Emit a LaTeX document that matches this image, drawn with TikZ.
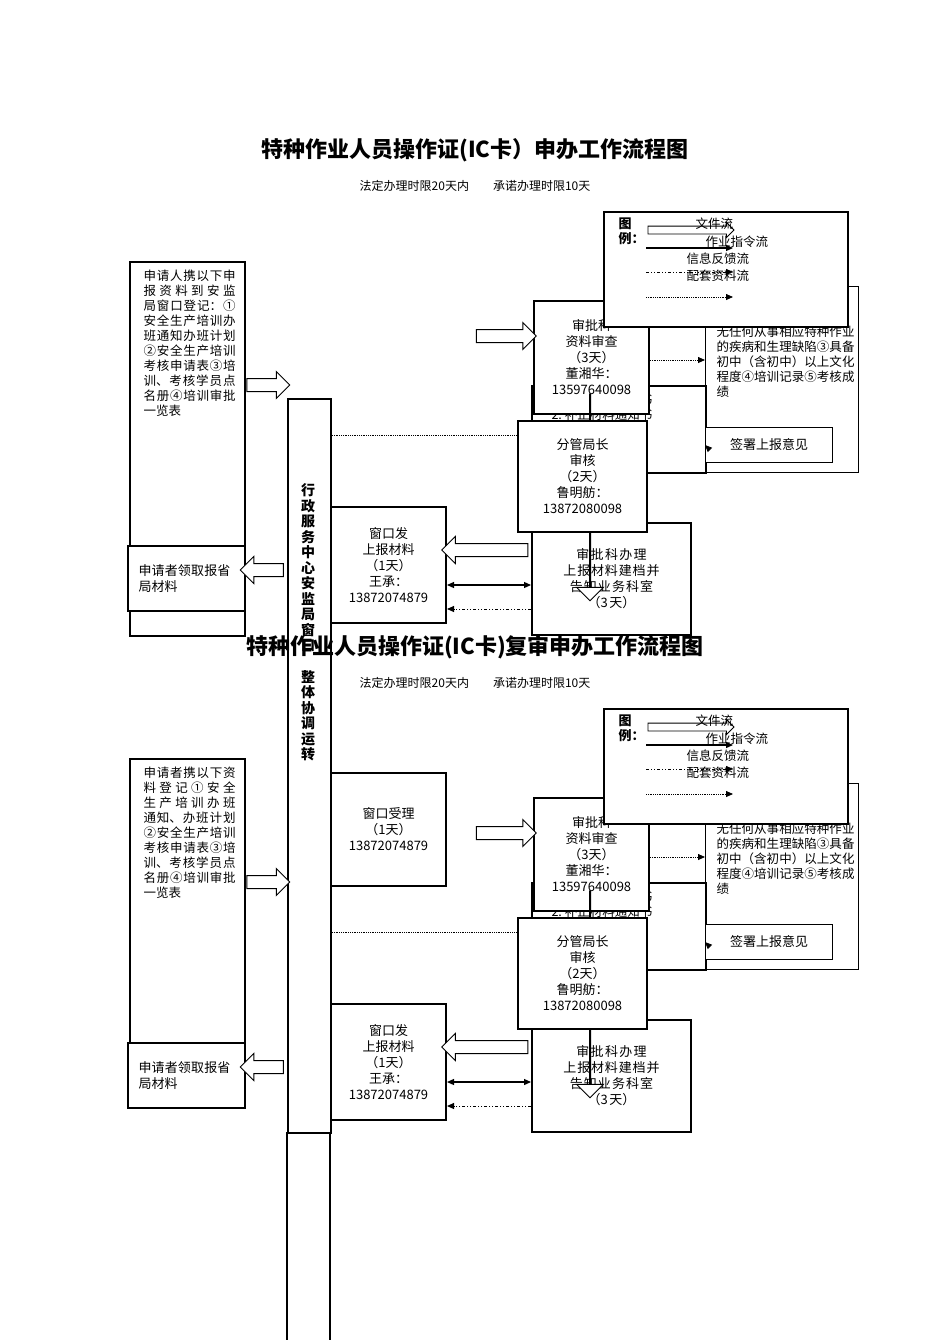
\documentclass[tikz,border=0pt]{standalone}
\usepackage{fontspec}
\setmainfont{Noto Sans CJK SC}
\XeTeXlinebreaklocale "zh"
\XeTeXlinebreakskip=0pt plus 1pt
\usetikzlibrary{shapes.arrows,arrows.meta}
\begin{document}
\begin{tikzpicture}[x=1pt,y=-1pt,
 bx/.style={draw,fill=white,line width=2pt,inner sep=2pt,align=center,font=\fontsize{13}{16}\selectfont},
 thin/.style={draw,fill=white,line width=1pt},
 harrow/.style={single arrow,draw,fill=white,line width=1pt,single arrow head extend=7pt,inner xsep=0pt,inner ysep=6pt},
 dotl/.style={densely dotted,line width=0.8pt},
 tip/.style={-{Triangle[length=7pt,width=6pt]}},
 txt/.style={font=\fontsize{12.5}{15}\selectfont}]
\useasboundingbox (0,0) rectangle (950,1344);
% central bar
\node[draw,line width=2pt,minimum width=43pt,minimum height=734pt,anchor=north west,inner sep=0pt] (bar) at (287,398) {};
\draw[line width=1.8pt] (287,1132) -- (287,1340) (330,1132) -- (330,1340);
\node[font=\bfseries\fontsize{14}{15.5}\selectfont,align=center,anchor=north] (bartxt) at (308,480) {行\\政\\服\\务\\中\\心\\安\\监\\局\\窗\\口\\[16pt]整\\体\\协\\调\\运\\转};

\foreach \o/\ttl/\lefttxt/\lh in {
 0/{特种作业人员操作证(IC卡）申办工作流程图}/{申请人携以下申报资料到安监局窗口登记：①安全生产培训办班通知办班计划②安全生产培训考核申请表③培训、考核学员点名册④培训审批一览表}/374,
 497/{特种作业人员操作证(IC卡)复审申办工作流程图}/{申请者携以下资料登记①安全生产培训办班通知、办班计划②安全生产培训考核申请表③培训、考核学员点名册④培训审批一览表}/325}{
\begin{scope}[yshift=-\o]
\node[font=\bfseries\fontsize{22}{24}\selectfont] (title\o) at (475,150) {\ttl};
\node[font=\fontsize{12}{14}\selectfont] (sub\o) at (475,186) {法定办理时限20天内\quad\quad 承诺办理时限10天};
% left box
\node[bx,anchor=north west,minimum width=115pt,minimum height=\lh pt,inner sep=0pt] (lb\o) at (129,261) {};
\node[txt,anchor=north west,text width=92pt,align=justify] (lbt\o) at (140,266) {\lefttxt};
\node[bx,anchor=north west,minimum width=117pt,minimum height=65pt,text width=96pt,align=left] (get\o) at (127,545) {申请者领取报省局材料};
\node[harrow,minimum height=43pt] (a1\o) at (265,385) {};
\node[harrow,minimum height=43pt,shape border rotate=180] (a2\o) at (265,570) {};
% window boxes
\node[bx,anchor=north west,minimum width=115pt,minimum height=116pt] (fa\o) at (330,506) {窗口发\\上报材料\\（1天）\\王承：\\13872074879};
% requirement box
\node[thin,anchor=north west,minimum width=153pt,minimum height=186pt] (req\o) at (705,286) {};
\node[txt,anchor=north west,text width=138pt,align=justify] (reqt\o) at (713,322) {无任何从事相应特种作业的疾病和生理缺陷③具备初中（含初中）以上文化程度④培训记录⑤考核成绩};
% notice box
\node[bx,anchor=north west,minimum width=174pt,minimum height=87pt] (nt\o) at (531,385) {};
\node[txt,anchor=north west,align=left] (ntt\o) at (548,390) {1.\ 不予受理通知书\\2.\ 补正材料通知书\\3.\ 受理通知书};
\node[thin,anchor=north west,minimum width=127pt,minimum height=35pt,font=\fontsize{13}{14}\selectfont] (sign\o) at (705,427) {签署上报意见};
% approval
\node[bx,anchor=north west,minimum width=115pt,minimum height=113pt] (sp\o) at (533,300) {审批科\\资料审查\\（3天）\\董湘华：\\13597640098};
\node[harrow,minimum height=60pt] (a3\o) at (503,336) {};
\draw[dotl,tip] (sp\o.east |- 0,360) -- (req\o.west |- 0,360);
\draw[dotl,tip] (nt\o.east |- 0,447) -- (sign\o.west);
% final box
\node[bx,anchor=north west,minimum width=159pt,minimum height=112pt,text width=140pt] (fin\o) at (531,522) {审批科办理\\上报材料建档并\\告知业务科室\\（3天）\\[30pt]};
\node[harrow,minimum height=207pt,shape border rotate=270,inner ysep=7pt,single arrow head extend=13pt] (a4\o) at (590,497) {};
\node[harrow,minimum height=86pt,shape border rotate=180] (a5\o) at (488,550) {};
\draw[line width=1.2pt,{Triangle[length=7pt,width=6pt]}-{Triangle[length=7pt,width=6pt]}] (fa\o.east |- 0,585) -- (fin\o.west |- 0,585);
\draw[line width=1pt,dash dot dot,tip] (fin\o.west |- 0,609) -- (fa\o.east |- 0,609);
\draw[dotl] (bar.east |- 0,435) -- (517,435);
% boss
\node[bx,anchor=north west,minimum width=129pt,minimum height=111pt] (bs\o) at (517,420) {分管局长\\审核\\（2天）\\鲁明舫：\\13872080098};
% legend
\node[thin,line width=1.5pt,anchor=north west,minimum width=244pt,minimum height=115pt] (lg\o) at (603,211) {};
\node[font=\bfseries\fontsize{13}{15}\selectfont,align=left,anchor=north west] (lgt\o) at (615,214) {图\\例：};
\node[single arrow,draw,fill=white,minimum height=86pt,single arrow head extend=3.5pt,inner xsep=0pt,inner ysep=3.5pt,line width=0.8pt] (l1\o) at (689,230) {};
\node[txt,anchor=west] (l1t\o) at (692,224) {文件流};
\coordinate (l2s\o) at (646,248); \coordinate (l2e\o) at (733,248);
\draw[line width=1.2pt,tip] (l2s\o) -- (l2e\o);
\node[txt,anchor=west] (l2t\o) at (702,242) {作业指令流};
\node[txt,anchor=west] (l3t\o) at (683,259) {信息反馈流};
\coordinate (l4s\o) at (646,272); \coordinate (l4e\o) at (733,272);
\draw[line width=1pt,dash dot dot,tip] (l4s\o) -- (l4e\o);
\node[txt,anchor=west] (l4t\o) at (683,276) {配套资料流};
\coordinate (l5s\o) at (646,297); \coordinate (l5e\o) at (733,297);
\draw[dotl,tip] (l5s\o) -- (l5e\o);
\end{scope}}
% second section window-accept box
\node[bx,anchor=north west,minimum width=115pt,minimum height=113pt] (acc) at (330,772) {窗口受理\\（1天）\\13872074879};
\end{tikzpicture}
\end{document}
